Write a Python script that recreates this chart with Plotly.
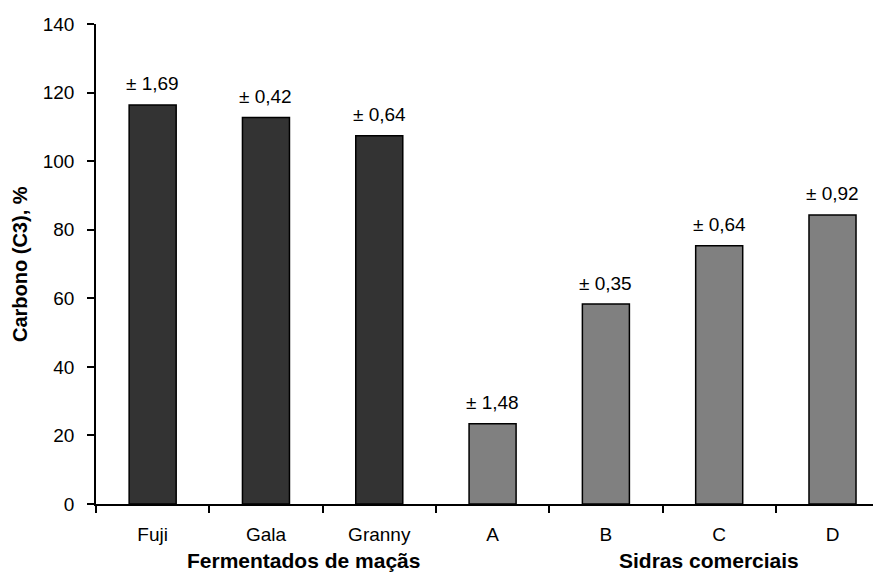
import plotly.graph_objects as go

categories = ["Fuji", "Gala", "Granny", "A", "B", "C", "D"]
values = [116.4, 112.7, 107.4, 23.4, 58.3, 75.3, 84.3]
errors = ["± 1,69", "± 0,42", "± 0,64", "± 1,48", "± 0,35", "± 0,64", "± 0,92"]
bar_colors = ["#333333", "#333333", "#333333", "#808080", "#808080", "#808080", "#808080"]
group_labels = ["Fermentados de maçãs", "Sidras comerciais"]
y_title = "Carbono (C3), %"

FONT = "Liberation Sans, Arial, sans-serif"

fig = go.Figure()
fig.add_trace(go.Bar(
    x=categories, y=values,
    marker=dict(color=bar_colors, line=dict(color="black", width=1.5)),
    width=0.415,
    hoverinfo="x+y",
))

annotations = []
for c, v, e in zip(categories, values, errors):
    annotations.append(dict(x=c, y=v, xref="x", yref="y", text=e, showarrow=False,
                            yanchor="middle", yshift=21,
                            font=dict(family=FONT, size=19, color="black")))

annotations.append(dict(x=0.2637, y=-0.1176, xref="paper", yref="paper", text="<b>%s</b>" % group_labels[0],
                        showarrow=False, xanchor="center", yanchor="middle",
                        font=dict(family=FONT, size=21, color="black")))
annotations.append(dict(x=0.7815, y=-0.1176, xref="paper", yref="paper", text="<b>%s</b>" % group_labels[1],
                        showarrow=False, xanchor="center", yanchor="middle",
                        font=dict(family=FONT, size=21, color="black")))
annotations.append(dict(x=-0.0968, y=0.5, xref="paper", yref="paper", text="<b>%s</b>" % y_title,
                        showarrow=False, textangle=-90, xanchor="center", yanchor="middle",
                        font=dict(family=FONT, size=20, color="black")))

fig.update_layout(
    width=873, height=574,
    margin=dict(l=88, r=0, t=16, b=77.5, autoexpand=False),
    plot_bgcolor="white", paper_bgcolor="white",
    showlegend=False,
    annotations=annotations,
    font=dict(family=FONT, size=19, color="black"),
    xaxis=dict(
        range=[-0.5, 6.428],
        showline=True, linecolor="black", linewidth=1.5,
        ticks="outside", ticklen=7, tickwidth=1.5, tickcolor="black",
        tickson="boundaries",
        showgrid=False, zeroline=False, automargin=False,
        ticklabelstandoff=12,
        tickfont=dict(family=FONT, size=19, color="black"),
    ),
    yaxis=dict(
        range=[0, 140], dtick=20, tick0=0,
        showline=True, linecolor="black", linewidth=1.5,
        ticks="outside", ticklen=7, tickwidth=1.5, tickcolor="black",
        showgrid=False, zeroline=False, automargin=False,
        ticklabelstandoff=9,
        tickfont=dict(family=FONT, size=19, color="black"),
    ),
)

fig.write_html("out.html")
